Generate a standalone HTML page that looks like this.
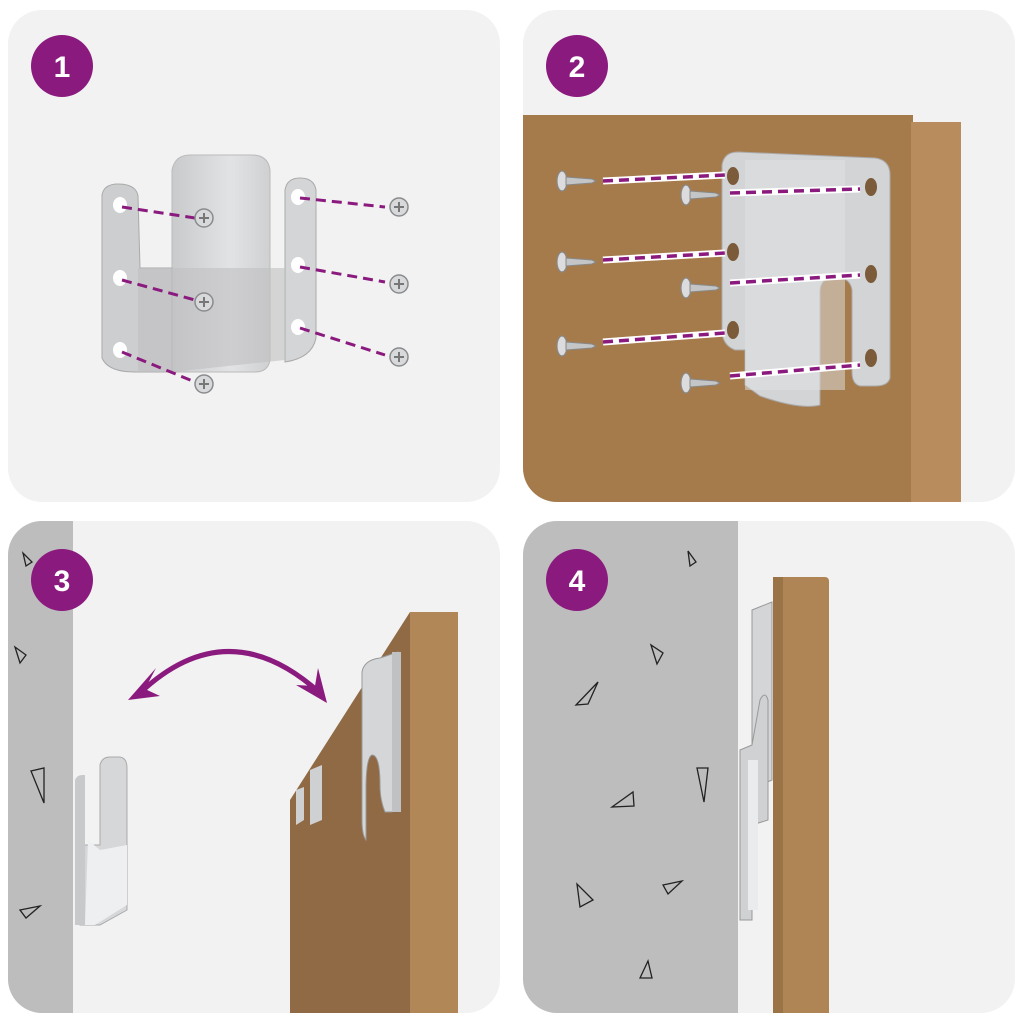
<!DOCTYPE html>
<html><head><meta charset="utf-8"><style>
html,body{margin:0;padding:0;background:#fff}
svg{display:block}
text{font-family:"Liberation Sans",sans-serif;font-weight:bold}
</style></head><body>
<svg width="1024" height="1024" viewBox="0 0 1024 1024" xmlns="http://www.w3.org/2000/svg">
<defs>
<clipPath id="c1"><rect x="8" y="10" width="492" height="492" rx="34"/></clipPath>
<clipPath id="c2"><rect x="523" y="10" width="492" height="492" rx="34"/></clipPath>
<clipPath id="c3"><rect x="8" y="521" width="492" height="492" rx="34"/></clipPath>
<clipPath id="c4"><rect x="523" y="521" width="492" height="492" rx="34"/></clipPath>
<linearGradient id="metal" x1="0" x2="1"><stop offset="0" stop-color="#c9cacc"/><stop offset="0.6" stop-color="#e2e3e5"/><stop offset="1" stop-color="#cfd0d2"/></linearGradient>
<g id="screw"><circle cx="0" cy="0" r="9" fill="#d8d9db" stroke="#8a8b8e" stroke-width="1.5"/><path d="M-5 0H5M0 -5V5" stroke="#777" stroke-width="2"/></g>
<g id="screwL"><ellipse cx="0" cy="0" rx="5" ry="10" fill="#dcdcde" stroke="#888" stroke-width="1.2"/><path d="M4 -4 L30 -2 L34 0 L30 2 L4 4Z" fill="#c4c5c7" stroke="#888" stroke-width="1"/></g>
</defs>
<!-- Panel 1 -->
<g clip-path="url(#c1)">
<rect x="8" y="10" width="492" height="492" fill="#f2f2f2"/>
<path d="M172 170 Q175 155 190 155 L252 155 Q268 155 270 170 L270 360 Q268 372 255 372 L172 372Z" fill="url(#metal)" stroke="#bbb"/>
<path d="M102 195 Q104 184 118 184 Q136 184 138 196 L140 268 L172 268 L172 372 L135 372 Q108 372 102 358Z" fill="#cdced0" stroke="#aaa"/>
<path d="M285 190 Q287 178 300 178 Q314 178 316 190 L316 338 Q312 358 285 362Z" fill="#d4d5d7" stroke="#aaa"/>
<path d="M138 268 L285 268 L285 360 L172 372 L138 372Z" fill="#bfc0c2" opacity="0.6"/>
<g fill="#fff"><ellipse cx="120" cy="205" rx="7" ry="8"/><ellipse cx="120" cy="278" rx="7" ry="8"/><ellipse cx="120" cy="350" rx="7" ry="8"/><ellipse cx="298" cy="197" rx="7" ry="8"/><ellipse cx="298" cy="265" rx="7" ry="8"/><ellipse cx="298" cy="327" rx="7" ry="8"/></g>
<g stroke="#8b1a7e" stroke-width="3" stroke-dasharray="10 6" fill="none">
<path d="M122 207 L195 218"/><path d="M122 280 L195 300"/><path d="M122 352 L195 382"/>
<path d="M300 198 L385 207"/><path d="M300 267 L385 282"/><path d="M300 328 L385 355"/></g>
<use href="#screw" x="204" y="218"/><use href="#screw" x="204" y="302"/><use href="#screw" x="204" y="384"/>
<use href="#screw" x="399" y="207"/><use href="#screw" x="399" y="284"/><use href="#screw" x="399" y="357"/>
</g>
<!-- Panel 2 -->
<g clip-path="url(#c2)">
<rect x="523" y="10" width="492" height="492" fill="#f2f2f2"/>
<rect x="523" y="115" width="390" height="400" fill="#a67b4c"/>
<rect x="911" y="122" width="50" height="393" fill="#b88c5c"/>
<path d="M722 165 Q724 152 738 152 L875 158 Q890 160 890 175 L890 378 Q888 386 875 386 L860 386 Q852 384 852 372 L852 290 Q850 278 838 278 L830 278 Q820 280 820 292 L820 405 Q800 410 760 396 L745 385 L745 350 L735 350 Q722 345 722 330Z" fill="#d3d4d6" stroke="#aaa"/>
<rect x="745" y="160" width="100" height="230" fill="#e0e1e3" opacity="0.5"/>
<g fill="#7b5b3a"><ellipse cx="733" cy="176" rx="6" ry="9"/><ellipse cx="733" cy="252" rx="6" ry="9"/><ellipse cx="733" cy="330" rx="6" ry="9"/><ellipse cx="871" cy="187" rx="6" ry="9"/><ellipse cx="871" cy="274" rx="6" ry="9"/><ellipse cx="871" cy="358" rx="6" ry="9"/></g>
<g stroke="#fff" stroke-width="7" fill="none"><path d="M603 181 L725 175"/><path d="M603 260 L725 253"/><path d="M603 342 L725 333"/><path d="M730 193 L860 189"/><path d="M730 283 L860 275"/><path d="M730 376 L860 365"/></g>
<g stroke="#8b1a7e" stroke-width="3.5" stroke-dasharray="10 6" fill="none"><path d="M603 181 L725 175"/><path d="M603 260 L725 253"/><path d="M603 342 L725 333"/><path d="M730 193 L860 189"/><path d="M730 283 L860 275"/><path d="M730 376 L860 365"/></g>
<use href="#screwL" x="562" y="181"/><use href="#screwL" x="562" y="262"/><use href="#screwL" x="562" y="346"/>
<use href="#screwL" x="686" y="195"/><use href="#screwL" x="686" y="288"/><use href="#screwL" x="686" y="383"/>
</g>
<!-- Panel 3 -->
<g clip-path="url(#c3)">
<rect x="8" y="521" width="492" height="492" fill="#f2f2f2"/>
<rect x="8" y="521" width="65" height="492" fill="#bdbdbd"/>
<g fill="none" stroke="#222" stroke-width="1.3"><path d="M23 553 L26 566 L32 562Z"/><path d="M15 647 L20 663 L26 655Z"/><path d="M31 771 L44 768 L44 803Z"/><path d="M20 910 L40 906 L26 918Z"/></g>
<path d="M100 765 Q102 757 110 757 L120 757 Q127 758 127 768 L127 910 L100 925 L80 925 L80 845 L100 845Z" fill="#d6d7d9" stroke="#aaa"/>
<path d="M75 780 Q77 775 82 775 L85 775 L85 925 L75 925Z" fill="#c8c9cb"/>
<path d="M88 840 L100 850 L127 845 L127 905 L95 925 L85 925Z" fill="#eeeff0"/>
<path d="M290 800 L410 612 L410 1013 L290 1013Z" fill="#8f6a44"/>
<rect x="410" y="612" width="48" height="401" fill="#b28758"/>
<path d="M362 672 Q364 660 380 658 L398 652 L400 800 L392 812 L385 812 Q380 800 380 785 Q380 755 372 755 Q366 757 366 790 L366 840 Q362 835 362 820Z" fill="#d5d6d8" stroke="#999"/>
<rect x="392" y="652" width="9" height="160" fill="#c0c1c3"/>
<path d="M310 770 L322 765 L322 820 L310 825Z" fill="#cfd0d2"/>
<path d="M296 790 L304 787 L304 820 L296 825Z" fill="#cfd0d2"/>
<path d="M140 693 Q228 610 320 693" fill="none" stroke="#8b1a7e" stroke-width="5"/>
<path d="M128 700 L156 668 L145 689 L160 696Z" fill="#8b1a7e"/>
<path d="M327 703 L296 685 L315 686 L318 668Z" fill="#8b1a7e"/>
</g>
<!-- Panel 4 -->
<g clip-path="url(#c4)">
<rect x="523" y="521" width="492" height="492" fill="#f2f2f2"/>
<rect x="523" y="521" width="215" height="492" fill="#bdbdbd"/>
<g fill="none" stroke="#222" stroke-width="1.3"><path d="M688 551 L690 566 L696 562Z"/><path d="M651 645 L657 664 L663 653Z"/><path d="M576 705 L598 682 L588 704Z"/><path d="M697 768 L708 768 L704 802Z"/><path d="M612 807 L633 792 L634 806Z"/><path d="M577 884 L580 907 L593 900Z"/><path d="M663 885 L682 881 L668 894Z"/><path d="M640 978 L648 961 L652 978Z"/></g>
<rect x="773" y="577" width="56" height="440" rx="4" fill="#b08555"/>
<rect x="773" y="577" width="10" height="440" fill="#9a7347"/>
<path d="M752 610 L772 602 L772 780 L760 785 L752 780Z" fill="#d4d5d7" stroke="#999"/>
<path d="M740 750 L752 745 L760 700 Q765 690 768 700 L768 820 L752 825 L752 920 L740 920Z" fill="#d0d1d3" stroke="#999"/>
<rect x="748" y="760" width="10" height="150" fill="#eaebec"/>
</g>
<!-- Badges -->
<g fill="#8b1a7e"><circle cx="62" cy="66" r="31"/><circle cx="577" cy="66" r="31"/><circle cx="62" cy="580" r="31"/><circle cx="577" cy="580" r="31"/></g>
<g fill="#fff" font-size="30" text-anchor="middle"><text x="62" y="77">1</text><text x="577" y="77">2</text><text x="62" y="591">3</text><text x="577" y="591">4</text></g>
</svg>
</body></html>
